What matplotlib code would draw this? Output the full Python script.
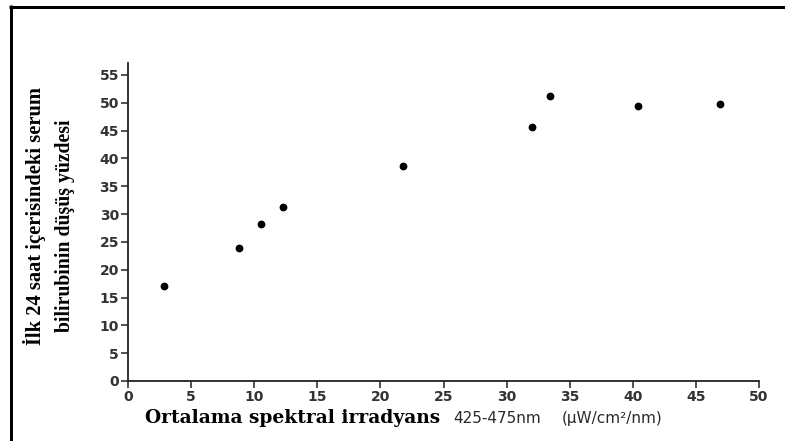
import matplotlib
matplotlib.use("Agg")
import matplotlib.pyplot as plt
from matplotlib.lines import Line2D

# mean spectral irradiance (425-475 nm) vs % fall of serum bilirubin in first 24 h
irradiance = [2.85, 8.8, 10.5, 12.3, 21.8, 32.0, 33.4, 40.4, 46.9]
decrease = [17.1, 23.9, 28.3, 31.3, 38.6, 45.6, 51.2, 49.4, 49.8]
xticks = list(range(0, 51, 5))
yticks = list(range(0, 56, 5))

W, H = 785, 441
fig = plt.figure(figsize=(W / 100, H / 100), dpi=100)
fig.patch.set_facecolor("white")

# axes placed in pixel terms: x 0..50 -> 128..759, y 0 at 381, 55 at 75
ax = fig.add_axes([128 / W, 60 / H, 631 / W, 318 / H])
ax.plot(irradiance, decrease, "o", color="black", ms=4.6, clip_on=False)
ax.set_xlim(0, 50)
ax.set_ylim(0, 318 / 5.564)
ax.set_xticks(xticks)
ax.set_yticks(yticks)
for s in ["top", "right"]:
    ax.spines[s].set_visible(False)
for s in ["left", "bottom"]:
    ax.spines[s].set_linewidth(1.3)
    ax.spines[s].set_color("#222222")
ax.tick_params(direction="out", length=5, width=1.1, color="#222222",
               labelsize=10, labelcolor="#333333", pad=1.5)
for lab in ax.get_xticklabels() + ax.get_yticklabels():
    lab.set_fontweight("bold")

# y label, two lines in a condensed bold serif
fig.text(34.5 / W, 1 - 216 / H, "İlk 24 saat içerisindeki serum", rotation=90,
         ha="center", va="center", family="Liberation Serif", weight="bold",
         fontsize=14.8)
fig.text(65 / W, 1 - 226 / H, "bilirubinin düşüş yüzdesi", rotation=90,
         ha="center", va="center", family="Liberation Serif", weight="bold",
         fontsize=14.2)

# x label pieces
fig.text(145 / W, 1 - 423 / H, "Ortalama spektral irradyans", ha="left",
         va="baseline", family="DejaVu Serif", weight="bold", fontsize=13.4)
fig.text(453 / W, 1 - 423 / H, "425-475nm", ha="left", va="baseline",
         family="DejaVu Sans", fontsize=11, color="#2a2a2a")
fig.text(562 / W, 1 - 423 / H, "(μW/cm²/nm)", ha="left", va="baseline",
         family="DejaVu Sans", fontsize=11, color="#2a2a2a")

# frame: thick left and top border lines
lw = 3 * 0.72
fig.add_artist(Line2D([10.5 / W, 10.5 / W], [0, 1 - 5 / H], color="black",
                      lw=lw, transform=fig.transFigure, solid_capstyle="butt"))
fig.add_artist(Line2D([9 / W, 1], [1 - 6.5 / H, 1 - 6.5 / H], color="black",
                      lw=lw, transform=fig.transFigure, solid_capstyle="butt"))

fig.savefig("out.png", dpi=100)
